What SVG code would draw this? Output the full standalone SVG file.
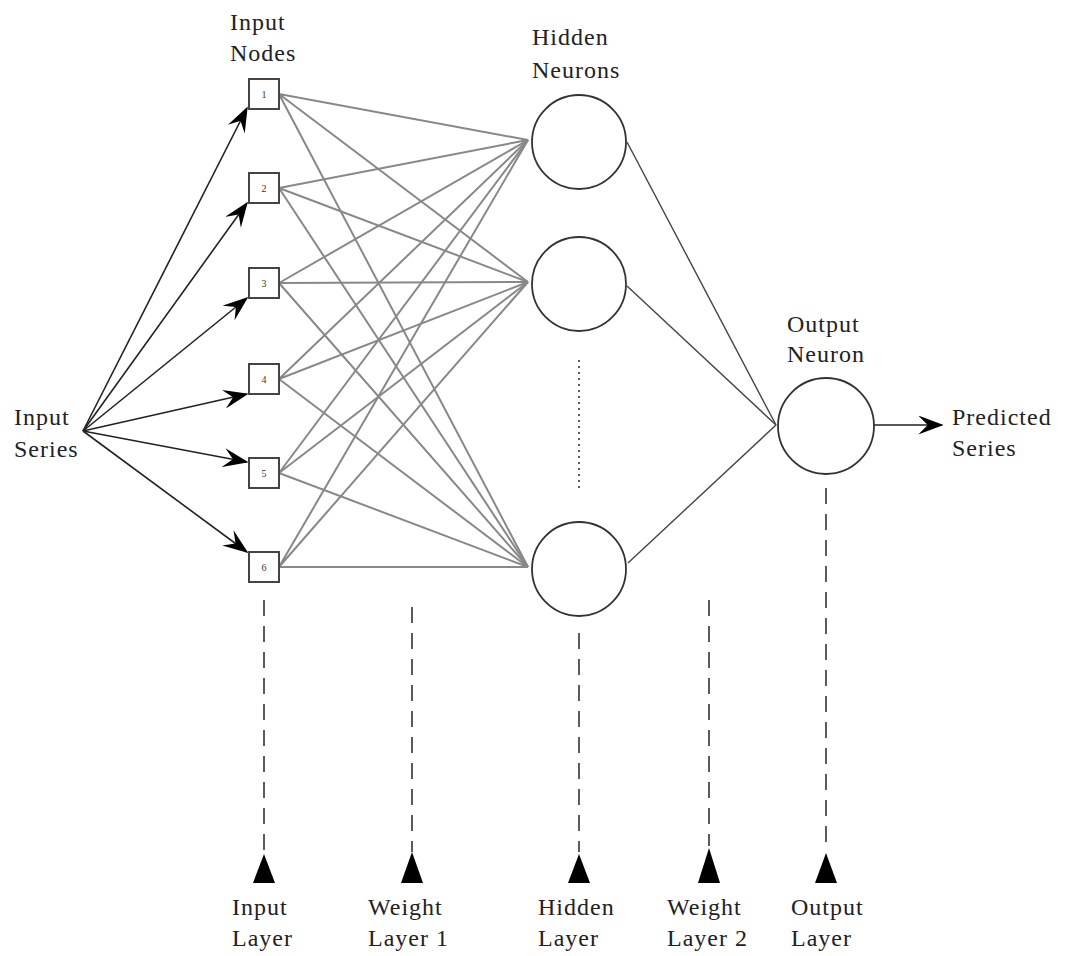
<svg xmlns="http://www.w3.org/2000/svg" width="1065" height="956" viewBox="0 0 1065 956">
<defs>
<marker id="arr2" viewBox="0 0 16 12" refX="15" refY="6" markerWidth="26" markerHeight="19" markerUnits="userSpaceOnUse" orient="auto">
<path d="M0,0 L16,6 L0,12 L6,6 Z" fill="#000"/>
</marker>
</defs>
<style>
text{font-family:"Liberation Serif","Times New Roman",serif;font-size:24px;fill:#222;letter-spacing:1px}
.num{font-size:10px;fill:#333;text-anchor:middle;letter-spacing:0}
.box{fill:#fff;stroke:#444;stroke-width:2}
.neuron{fill:#fff;stroke:#333;stroke-width:1.8}
.inarr{stroke:#222;stroke-width:1.6;fill:none}
.w1{stroke:#888;stroke-width:2;fill:none}
.w2{stroke:#444;stroke-width:1.4;fill:none}
.dash{stroke:#333;stroke-width:1.6;stroke-dasharray:16 10;fill:none}
.tri{fill:#000}
</style>
<rect width="1065" height="956" fill="#fff"/>
<g id="connectors">
<g id="input-arrows">
<line class="inarr" x1="83" y1="431" x2="247" y2="108" marker-end="url(#arr2)"/>
<line class="inarr" x1="83" y1="431" x2="247" y2="203" marker-end="url(#arr2)"/>
<line class="inarr" x1="83" y1="431" x2="247" y2="298" marker-end="url(#arr2)"/>
<line class="inarr" x1="83" y1="431" x2="247" y2="394" marker-end="url(#arr2)"/>
<line class="inarr" x1="83" y1="431" x2="247" y2="462" marker-end="url(#arr2)"/>
<line class="inarr" x1="83" y1="431" x2="247" y2="552" marker-end="url(#arr2)"/>
</g>
<g id="weights1">
<path class="w1" d="M279,94 L528,140 M279,94 L528,282 M279,94 L528,567"/>
<path class="w1" d="M279,188 L528,140 M279,188 L528,282 M279,188 L528,567"/>
<path class="w1" d="M279,283 L528,140 M279,283 L528,282 M279,283 L528,567"/>
<path class="w1" d="M279,379 L528,140 M279,379 L528,282 M279,379 L528,567"/>
<path class="w1" d="M279,473 L528,140 M279,473 L528,282 M279,473 L528,567"/>
<path class="w1" d="M279,567 L528,140 M279,567 L528,282 M279,567 L528,567"/>
</g>
<g id="weights2">
<line class="w2" x1="627" y1="142" x2="776" y2="425"/>
<line class="w2" x1="627" y1="286" x2="776" y2="425"/>
<line class="w2" x1="628" y1="563" x2="776" y2="425"/>
</g>
<line id="output-arrow" class="inarr" x1="874" y1="425" x2="942" y2="425" marker-end="url(#arr2)"/>
<line id="hidden-ellipsis" x1="579" y1="360" x2="579" y2="492" stroke="#333" stroke-width="1.6" stroke-dasharray="2 4"/>
<g id="layer-markers">
<line class="dash" x1="264" y1="600" x2="264" y2="852"/>
<line class="dash" x1="412" y1="607" x2="412" y2="852"/>
<line class="dash" x1="579" y1="633" x2="579" y2="852"/>
<line class="dash" x1="709" y1="600" x2="709" y2="846"/>
<line class="dash" x1="826" y1="488" x2="826" y2="852"/>
<polygon class="tri" points="264,854 253,883 275,883"/>
<polygon class="tri" points="412,852 401,883 423,883"/>
<polygon class="tri" points="579,854 568,883 590,883"/>
<polygon class="tri" points="709,848 698,883 720,883"/>
<polygon class="tri" points="826,853 815,883 837,883"/>
</g>
</g>
<g id="input-series"><text x="14" y="425">Input</text><text x="14" y="457">Series</text></g>
<g id="input-nodes-label"><text x="230" y="30">Input</text><text x="230" y="61">Nodes</text></g>
<g id="node1"><rect class="box" x="249" y="79" width="30" height="30"/><text class="num" x="264" y="98">1</text></g>
<g id="node2"><rect class="box" x="249" y="173" width="30" height="30"/><text class="num" x="264" y="192">2</text></g>
<g id="node3"><rect class="box" x="249" y="268" width="30" height="30"/><text class="num" x="264" y="287">3</text></g>
<g id="node4"><rect class="box" x="249" y="364" width="30" height="30"/><text class="num" x="264" y="383">4</text></g>
<g id="node5"><rect class="box" x="249" y="458" width="30" height="30"/><text class="num" x="264" y="477">5</text></g>
<g id="node6"><rect class="box" x="249" y="552" width="30" height="30"/><text class="num" x="264" y="571">6</text></g>
<g id="hidden-label"><text x="532" y="45">Hidden</text><text x="532" y="78">Neurons</text></g>
<g id="hidden1"><circle class="neuron" cx="579" cy="142" r="47"/></g>
<g id="hidden2"><circle class="neuron" cx="579" cy="284" r="47"/></g>
<g id="hidden3"><circle class="neuron" cx="579" cy="569" r="47"/></g>
<g id="output-label"><text x="787" y="332">Output</text><text x="787" y="362">Neuron</text></g>
<g id="output"><circle class="neuron" cx="826" cy="426" r="48"/></g>
<g id="predicted"><text x="952" y="425">Predicted</text><text x="952" y="456">Series</text></g>
<g id="lbl-input-layer"><text x="232" y="915">Input</text><text x="232" y="946">Layer</text></g>
<g id="lbl-weight1"><text x="368" y="915">Weight</text><text x="368" y="946">Layer 1</text></g>
<g id="lbl-hidden-layer"><text x="538" y="915">Hidden</text><text x="538" y="946">Layer</text></g>
<g id="lbl-weight2"><text x="667" y="915">Weight</text><text x="667" y="946">Layer 2</text></g>
<g id="lbl-output-layer"><text x="791" y="915">Output</text><text x="791" y="946">Layer</text></g>
</svg>
